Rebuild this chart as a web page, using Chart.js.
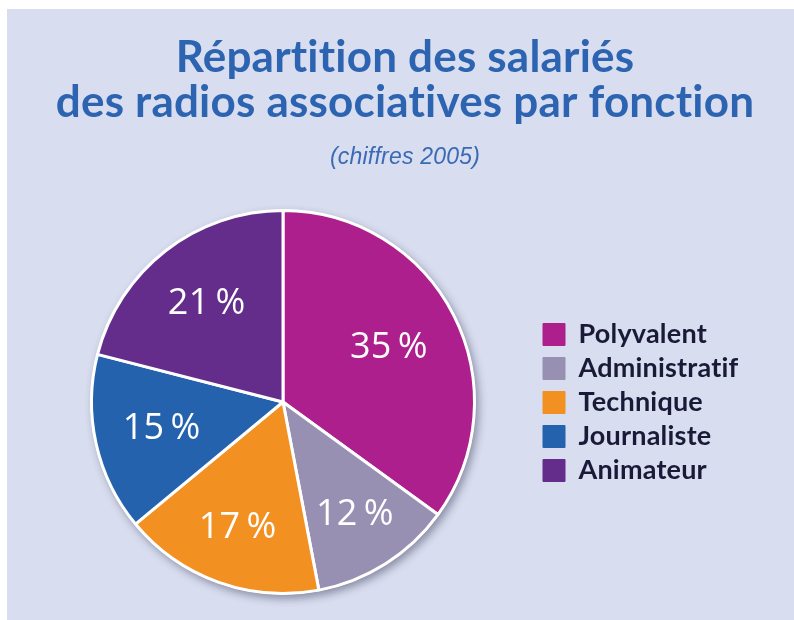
<!DOCTYPE html>
<html>
<head>
<meta charset="utf-8">
<script src="https://cdn.jsdelivr.net/npm/chart.js@4/dist/chart.umd.min.js"></script>
<style>
  html, body { margin: 0; padding: 0; background: #ffffff; }
  #wrap { position: absolute; left: 7px; top: 9px; width: 787px; height: 611px; background: #d8ddef; }
  canvas { display: block; }
</style>
</head>
<body>
<div id="wrap"><canvas id="c" width="787" height="611"></canvas></div>
<script>
const categories = ['Polyvalent', 'Administratif', 'Technique', 'Journaliste', 'Animateur'];
const shares = [35, 12, 17, 15, 21];
const sliceColors = ['#ad1f8c', '#9890b3', '#f39022', '#2462ad', '#642d8b'];
const titleLines = ['Répartition des salariés', 'des radios associatives par fonction'];
const subtitleText = '(chiffres 2005)';

// style: label placement inside slices (fraction of radius)
const labelRadius = [0.62, 0.70, 0.70, 0.65, 0.65];
const legendBoxWidth = 244;

const legendWidthPlugin = {
  id: 'legendWidth',
  beforeUpdate(chart) {
    const lg = chart.legend;
    if (lg && !lg._widthPatched) {
      const orig = lg.fit;
      lg.fit = function () { orig.call(this); this.width = legendBoxWidth; };
      lg._widthPatched = true;
    }
  },
  beforeDraw(chart) {
    chart.ctx.letterSpacing = '0.2px';
  }
};

const shadowPlugin = {
  id: 'pieShadow',
  beforeDatasetsDraw(chart) {
    const arc = chart.getDatasetMeta(0).data[0];
    if (!arc) return;
    const ctx = chart.ctx;
    ctx.save();
    ctx.shadowColor = 'rgba(40,40,70,0.45)';
    ctx.shadowBlur = 9;
    ctx.shadowOffsetX = 3;
    ctx.shadowOffsetY = 4;
    ctx.beginPath();
    ctx.arc(arc.x, arc.y, arc.outerRadius + 1, 0, Math.PI * 2);
    ctx.fillStyle = '#ffffff';
    ctx.fill();
    ctx.restore();
  }
};

const labelPlugin = {
  id: 'sliceLabels',
  afterDatasetsDraw(chart) {
    const ctx = chart.ctx;
    const meta = chart.getDatasetMeta(0);
    const values = chart.data.datasets[0].data;
    ctx.save();
    ctx.fillStyle = '#ffffff';
    ctx.font = '400 36px "Open Sans", sans-serif';
    ctx.textAlign = 'center';
    ctx.textBaseline = 'middle';
    meta.data.forEach((arc, i) => {
      const mid = (arc.startAngle + arc.endAngle) / 2;
      const r = arc.outerRadius * labelRadius[i];
      ctx.fillText(values[i] + '\u2009%', arc.x + Math.cos(mid) * r, arc.y + Math.sin(mid) * r);
    });
    ctx.restore();
  }
};

new Chart(document.getElementById('c'), {
  type: 'pie',
  data: {
    labels: categories,
    datasets: [{
      data: shares,
      backgroundColor: sliceColors,
      borderColor: '#ffffff',
      borderWidth: 3
    }]
  },
  options: {
    responsive: false,
    animation: false,
    layout: { padding: { left: 23, right: 14, top: 0, bottom: 25 } },
    plugins: {
      title: {
        display: true,
        text: titleLines,
        color: '#2d64b1',
        font: { family: 'Lato', size: 44, weight: 'bold', lineHeight: 1.03 },
        padding: { top: 26, bottom: 18.6 }
      },
      subtitle: {
        display: true,
        text: subtitleText,
        color: '#3a6ab5',
        font: { family: '"Liberation Sans", Arial, sans-serif', size: 23, style: 'italic', lineHeight: 1.2 },
        padding: { top: 0, bottom: 37.2 }
      },
      legend: {
        position: 'right',
        align: 'start',
        title: { display: true, text: ' ', font: { size: 1, lineHeight: 1 }, padding: { top: 304, bottom: 0 } },
        labels: {
          color: '#1a1a38',
          boxWidth: 22,
          boxHeight: 22,
          padding: 7,
          font: { family: 'Lato', size: 27, weight: 'bold' },
          generateLabels(chart) {
            const items = Chart.overrides.pie.plugins.legend.labels.generateLabels(chart);
            return items.map(it => Object.assign(it, { strokeStyle: it.fillStyle, lineWidth: 1 }));
          }
        }
      },
      tooltip: { enabled: false }
    }
  },
  plugins: [legendWidthPlugin, shadowPlugin, labelPlugin]
});
</script>
</body>
</html>
